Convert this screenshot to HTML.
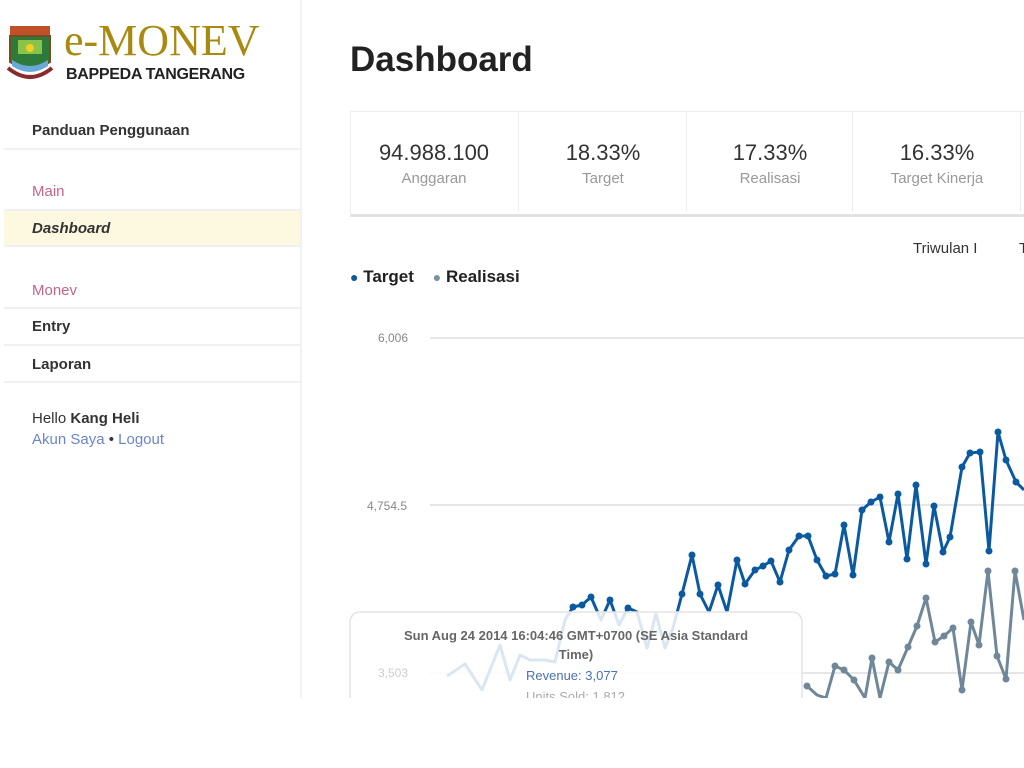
<!DOCTYPE html>
<html><head><meta charset="utf-8"><style>
body{margin:0;width:1024px;height:768px;background:#fff;font-family:"Liberation Sans",sans-serif;position:relative;overflow:hidden}
.a{position:absolute;white-space:nowrap}
.hr{position:absolute;left:4px;width:296px;height:2px;background:#f0f0f0}
.nav{font-size:15px;color:#333;font-weight:bold}
.cell{position:absolute;top:112px;height:100px;text-align:center}
.num{font-size:22px;color:#333;margin-top:28px}
.lbl{font-size:15px;color:#999;margin-top:4px}
</style></head><body>
<svg class="a" style="left:6px;top:24px" width="50" height="60" viewBox="0 0 50 60">
<rect x="4" y="2" width="40" height="10" fill="#c0502a"/>
<path d="M4 12 H44 V38 Q24 50 4 38Z" fill="#2e7a3a" stroke="#7a4a20" stroke-width="2"/>
<rect x="12" y="16" width="24" height="14" fill="#8bc34a"/><circle cx="24" cy="24" r="4" fill="#f0d020"/>
<path d="M6 36 Q24 48 42 36 L42 42 Q24 54 6 42Z" fill="#6aa8d8"/>
<path d="M2 44 Q24 62 46 44" stroke="#8a2a2a" stroke-width="4" fill="none"/>
</svg>
<div class="a" style="left:64px;top:16px;font-family:'Liberation Serif',serif;font-size:44px;color:#a88a10;line-height:50px">e-MONEV</div>
<div class="a" style="left:66px;top:66px;font-size:16px;font-weight:bold;color:#222;letter-spacing:-0.3px">BAPPEDA TANGERANG</div>
<div class="a" style="left:300px;top:0;width:2px;height:698px;background:#f2f2f2"></div>
<div class="a nav" style="left:32px;top:122px">Panduan Penggunaan</div>
<div class="hr" style="top:148px"></div>
<div class="a" style="left:32px;top:183px;font-size:15px;color:#c0658a">Main</div>
<div class="a" style="left:4px;top:209px;width:296px;height:38px;background:#fdf9e1;border-top:2px solid #f0f0f0;border-bottom:2px solid #f0f0f0;box-sizing:border-box"></div>
<div class="a nav" style="left:32px;top:220px;font-style:italic">Dashboard</div>
<div class="a" style="left:32px;top:282px;font-size:15px;color:#c0658a">Monev</div>
<div class="hr" style="top:307px"></div>
<div class="a nav" style="left:32px;top:318px">Entry</div>
<div class="hr" style="top:344px"></div>
<div class="a nav" style="left:32px;top:356px">Laporan</div>
<div class="hr" style="top:381px"></div>
<div class="a" style="left:32px;top:410px;font-size:15px;color:#333">Hello <b>Kang Heli</b></div>
<div class="a" style="left:32px;top:431px;font-size:15px;color:#6a85d0">Akun Saya <span style="color:#333">•</span> Logout</div>

<div class="a" style="left:350px;top:40px;font-size:35px;font-weight:bold;color:#222">Dashboard</div>
<div class="a" style="left:350px;top:111px;width:700px;height:102px;border:1px solid #eee;border-bottom:3px solid #e2e2e2"></div>
<div class="cell" style="left:350px;width:168px"><div class="num">94.988.100</div><div class="lbl">Anggaran</div></div>
<div class="cell" style="left:518px;width:168px;border-left:1px solid #eee"><div class="num">18.33%</div><div class="lbl">Target</div></div>
<div class="cell" style="left:686px;width:166px;border-left:1px solid #eee"><div class="num">17.33%</div><div class="lbl">Realisasi</div></div>
<div class="cell" style="left:852px;width:168px;border-left:1px solid #eee"><div class="num">16.33%</div><div class="lbl">Target Kinerja</div></div>
<div class="a" style="left:1020px;top:112px;width:1px;height:100px;background:#eee"></div>
<div class="a" style="left:913px;top:240px;font-size:15px;color:#333">Triwulan I</div>
<div class="a" style="left:1019px;top:240px;font-size:15px;color:#333">T</div>
<div class="a" style="left:350px;top:267px;font-size:17px;font-weight:bold;color:#222"><span style="color:#0b5aa0;font-size:14px">●</span> Target &nbsp;&nbsp;&nbsp;<span style="color:#7a8fa0;font-size:14px">●</span> Realisasi</div>
<div class="a" style="left:378px;top:331px;font-size:12px;color:#888">6,006</div>
<div class="a" style="left:367px;top:499px;font-size:12px;color:#888">4,754.5</div>
<svg class="a" style="left:0;top:0" width="1024" height="698">
<g stroke="#e6e6e6" stroke-width="2"><line x1="430" y1="338" x2="1024" y2="338"/><line x1="430" y1="505" x2="1024" y2="505"/><line x1="430" y1="673" x2="1024" y2="673"/></g>
<g fill="none" stroke-width="3" stroke-linejoin="round">
<polyline stroke="#0b5aa0" points="447,676 465,664 482,690 500,645 510,680 520,655 530,660 545,660 555,662 565,620 573,607 582,605 591,597 601,620 610,600 619,625 628,608 637,612 647,648 656,614 665,648 673,628 682,594 692,555 700,594 709,612 718,585 727,612 737,560 745,584 755,570 763,566 771,561 780,582 789,550 799,536 808,536 817,560 826,576 835,574 844,525 853,575 862,510 871,502 880,497 889,542 898,494 907,559 916,485 926,564 934,506 943,552 950,537 962,467 970,453 980,452 989,551 998,432 1006,460 1016,482 1024,490"/>
<polyline stroke="#6f8799" points="807,686 817,695 826,698 835,666 844,670 854,680 865,698 872,658 880,698 889,662 898,670 908,647 917,626 926,598 935,642 944,636 953,628 962,690 971,622 979,645 988,571 997,656 1006,679 1015,571 1024,620"/>
</g>
<g fill="#0b5aa0"><circle cx="573" cy="607" r="3.5"/><circle cx="582" cy="605" r="3.5"/><circle cx="591" cy="597" r="3.5"/><circle cx="610" cy="600" r="3.5"/><circle cx="628" cy="608" r="3.5"/><circle cx="682" cy="594" r="3.5"/><circle cx="692" cy="555" r="3.5"/><circle cx="700" cy="594" r="3.5"/><circle cx="718" cy="585" r="3.5"/><circle cx="737" cy="560" r="3.5"/><circle cx="745" cy="584" r="3.5"/><circle cx="755" cy="570" r="3.5"/><circle cx="763" cy="566" r="3.5"/><circle cx="771" cy="561" r="3.5"/><circle cx="780" cy="582" r="3.5"/><circle cx="789" cy="550" r="3.5"/><circle cx="799" cy="536" r="3.5"/><circle cx="808" cy="536" r="3.5"/><circle cx="817" cy="560" r="3.5"/><circle cx="826" cy="576" r="3.5"/><circle cx="835" cy="574" r="3.5"/><circle cx="844" cy="525" r="3.5"/><circle cx="853" cy="575" r="3.5"/><circle cx="862" cy="510" r="3.5"/><circle cx="871" cy="502" r="3.5"/><circle cx="880" cy="497" r="3.5"/><circle cx="889" cy="542" r="3.5"/><circle cx="898" cy="494" r="3.5"/><circle cx="907" cy="559" r="3.5"/><circle cx="916" cy="485" r="3.5"/><circle cx="926" cy="564" r="3.5"/><circle cx="934" cy="506" r="3.5"/><circle cx="943" cy="552" r="3.5"/><circle cx="950" cy="537" r="3.5"/><circle cx="962" cy="467" r="3.5"/><circle cx="970" cy="453" r="3.5"/><circle cx="980" cy="452" r="3.5"/><circle cx="989" cy="551" r="3.5"/><circle cx="998" cy="432" r="3.5"/><circle cx="1006" cy="460" r="3.5"/><circle cx="1016" cy="482" r="3.5"/></g>
<g fill="#6f8799"><circle cx="807" cy="686" r="3.5"/><circle cx="835" cy="666" r="3.5"/><circle cx="844" cy="670" r="3.5"/><circle cx="854" cy="680" r="3.5"/><circle cx="872" cy="658" r="3.5"/><circle cx="889" cy="662" r="3.5"/><circle cx="898" cy="670" r="3.5"/><circle cx="908" cy="647" r="3.5"/><circle cx="917" cy="626" r="3.5"/><circle cx="926" cy="598" r="3.5"/><circle cx="935" cy="642" r="3.5"/><circle cx="944" cy="636" r="3.5"/><circle cx="953" cy="628" r="3.5"/><circle cx="962" cy="690" r="3.5"/><circle cx="971" cy="622" r="3.5"/><circle cx="979" cy="645" r="3.5"/><circle cx="988" cy="571" r="3.5"/><circle cx="997" cy="656" r="3.5"/><circle cx="1006" cy="679" r="3.5"/><circle cx="1015" cy="571" r="3.5"/></g>
<rect x="350" y="612" width="452" height="100" rx="10" fill="#fff" fill-opacity="0.85" stroke="#e4e4e4" stroke-width="1.5"/>
</svg>
<div class="a" style="left:350px;top:626px;width:452px;text-align:center;font-size:13px;font-weight:bold;color:#666;white-space:normal;line-height:19px">Sun Aug 24 2014 16:04:46 GMT+0700 (SE Asia Standard<br>Time)</div>
<div class="a" style="left:526px;top:668px;font-size:13px;color:#4a72b0">Revenue: 3,077</div>
<div class="a" style="left:378px;top:666px;font-size:12px;color:#ccc">3,503</div>
<div class="a" style="left:526px;top:689px;font-size:13px;color:#aaa">Units Sold: 1,812</div>
<div class="a" style="left:0;top:698px;width:1024px;height:70px;background:#fff"></div>
</body></html>
